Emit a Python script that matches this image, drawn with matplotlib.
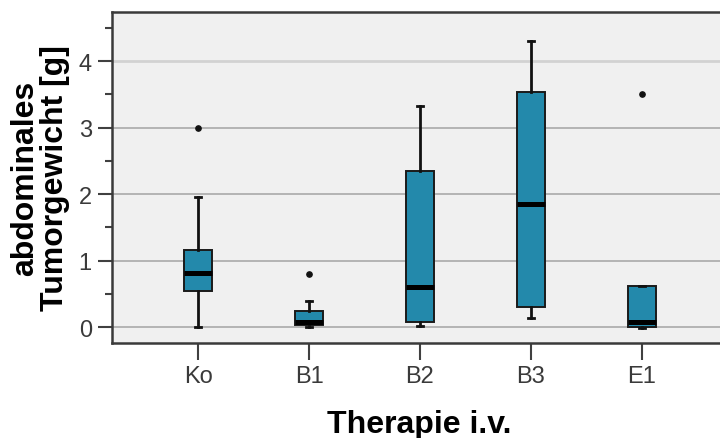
import matplotlib
matplotlib.use("Agg")
import matplotlib.pyplot as plt
from matplotlib.ticker import MultipleLocator

categories = ["Ko", "B1", "B2", "B3", "E1"]
whisker_low = [0.0, 0.0, 0.01, 0.13, -0.01]
q1 = [0.54, 0.03, 0.07, 0.30, 0.0]
median = [0.81, 0.07, 0.60, 1.85, 0.07]
q3 = [1.16, 0.24, 2.35, 3.53, 0.61]
whisker_high = [1.95, 0.39, 3.32, 4.30, 0.61]
outliers = [[3.0], [0.80], [], [], [3.50]]

x_label = "Therapie i.v."
y_label = "abdominales\nTumorgewicht [g]"
y_ticks = [0, 1, 2, 3, 4]

plt.rcParams['font.family'] = ['Liberation Sans', 'DejaVu Sans']

fig = plt.figure(figsize=(7.2, 4.39), dpi=100)
ax = fig.add_axes([112/720, 1-344/439, 616/720, (344-13)/439])
ax.set_facecolor("#f0f0f0")

stats = []
for i, c in enumerate(categories):
    stats.append(dict(label=c, whislo=whisker_low[i], q1=q1[i], med=median[i],
                      q3=q3[i], whishi=whisker_high[i], fliers=outliers[i]))

positions = list(range(len(categories)))
ax.bxp(stats, positions=positions, widths=0.26, capwidths=0.06, patch_artist=True,
       boxprops=dict(facecolor="#2389ab", edgecolor="#1a1a1a", linewidth=1.4),
       medianprops=dict(color="black", linewidth=3.6, solid_capstyle="butt"),
       whiskerprops=dict(color="#111111", linewidth=2.0),
       capprops=dict(color="#111111", linewidth=2.0),
       flierprops=dict(marker="o", markersize=3.8, markerfacecolor="#111111",
                       markeredgecolor="#111111"),
       zorder=3)

ax.set_xlim(-0.775, 4.775)
ax.set_ylim(-0.24, 4.737)
ax.set_yticks(y_ticks)
ax.yaxis.set_minor_locator(MultipleLocator(0.5))
ax.set_xticks(positions)
ax.set_xticklabels(categories)

for y in y_ticks:
    if y == 4:
        ax.axhline(y, color="#d2d2d2", linewidth=2.0, zorder=1)
    else:
        ax.axhline(y, color="#a4a4a4", linewidth=1.1, zorder=1)

for s in ["left", "bottom", "top", "right"]:
    ax.spines[s].set_color("#3a3a3a")
    ax.spines[s].set_linewidth(1.8)

ax.tick_params(axis="y", which="major", length=10, width=1.5, color="#404040",
               labelsize=17, labelcolor="#3a3a3a", pad=4.5)
ax.tick_params(axis="y", which="minor", length=5, width=1.5, color="#404040")
ax.tick_params(axis="x", which="major", length=12.5, width=1.5, color="#404040",
               labelsize=17, labelcolor="#3a3a3a", pad=3.5)

fig.text(40/720, 1-178/439, y_label, rotation=90, ha="center", va="center",
         fontsize=23, fontweight="bold", linespacing=1.0, color="black")
fig.text(419/720, 1-433/439, x_label, ha="center", va="baseline",
         fontsize=23, fontweight="bold", color="black")

fig.savefig("out.png", dpi=100)
